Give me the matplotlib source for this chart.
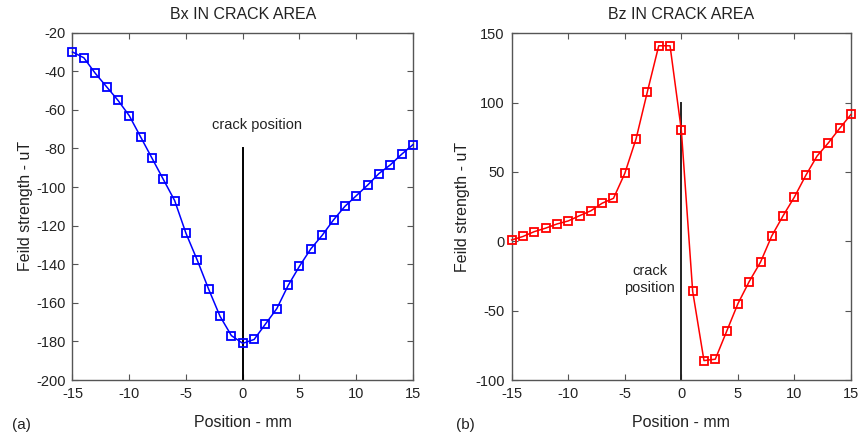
import matplotlib
matplotlib.use("Agg")
import matplotlib.pyplot as plt

plt.rcParams['font.family'] = ['Liberation Sans', 'DejaVu Sans']
plt.rcParams['axes.unicode_minus'] = False

position = list(range(-15, 16))
bx = [-30, -33, -41, -48, -55, -63, -74, -85, -96, -107, -124, -138, -153, -167, -177,
      -181, -179, -171, -163, -151, -141, -132, -125, -117, -110, -104.5, -99, -93, -88.5, -83, -78]
bz = [1, 3.5, 7, 9.5, 12.5, 14.7, 18.5, 22, 27.5, 31, 49, 74, 108, 141, 141,
      80, -36, -86, -85, -65, -45, -29, -15, 4, 18.5, 32, 47.5, 61.5, 71, 81.5, 91.5]

crack_x = [0, 0]
bx_crack_y = [-200, -80]
bz_crack_y = [-100, 100]

W, H = 862, 441
fig = plt.figure(figsize=(W/100, H/100), dpi=100)

def axes_px(x0, x1, y0, y1):
    return fig.add_axes([x0/W, 1 - y1/H, (x1-x0)/W, (y1-y0)/H])

ax1 = axes_px(72.5, 413, 32.7, 380)
ax2 = axes_px(511.7, 851, 33.3, 380)

for ax in (ax1, ax2):
    for s in ax.spines.values():
        s.set_color('#555555')
        s.set_linewidth(1.0)
    ax.tick_params(direction='in', top=True, right=True, length=4, width=0.8,
                   color='#555555', labelsize=10.5, pad=5, labelcolor='#222222')
    ax.set_xlim(-15, 15)
    ax.set_xticks([-15, -10, -5, 0, 5, 10, 15])
    ax.set_xlabel('Position - mm', fontsize=11.5, labelpad=10, color='#222222')

ax1.plot(position, bx, color='#0000ff', lw=1.1, marker='s', ms=6, mfc='none', mew=1.3,
         clip_on=False, zorder=3)
ax1.plot(crack_x, bx_crack_y, color='black', lw=1.4)
ax1.set_ylim(-200, -20)
ax1.set_yticks(range(-200, -19, 20))
ax1.set_ylabel('Feild strength - uT', fontsize=11.5, labelpad=2, color='#222222')
ax1.text(-2.7, -68, 'crack position', fontsize=10.5, ha='left', va='center', color='#222222')
ax1.set_title('Bx IN CRACK AREA', fontsize=11.5, pad=10, color='#222222')

ax2.plot(position, bz, color='#ff0000', lw=1.1, marker='s', ms=6, mfc='none', mew=1.3,
         clip_on=False, zorder=3)
ax2.plot(crack_x, bz_crack_y, color='#222222', lw=1.4)
ax2.set_ylim(-100, 150)
ax2.set_yticks(range(-100, 151, 50))
ax2.set_ylabel('Feild strength - uT', fontsize=11.5, labelpad=4, color='#222222')
ax2.text(-2.8, -27.5, 'crack\nposition', fontsize=10.5, ha='center', va='center',
         color='#222222', linespacing=1.3)
ax2.set_title('Bz IN CRACK AREA', fontsize=11.5, pad=10, color='#222222')

fig.text(12/W, 1 - 425/H, '(a)', fontsize=11, ha='left', va='center', color='#222222')
fig.text(456/W, 1 - 425/H, '(b)', fontsize=11, ha='left', va='center', color='#222222')

fig.savefig('out.png', dpi=100)
